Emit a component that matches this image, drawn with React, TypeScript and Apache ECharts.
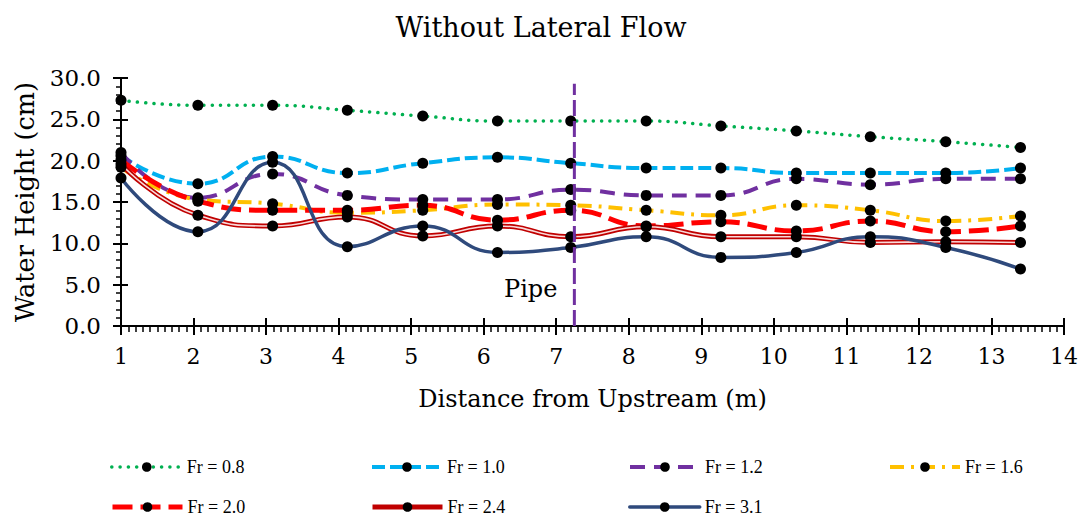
import React, { useEffect, useRef } from "react";
import * as echarts from "echarts";

// Distance from upstream (m) of each measuring station
const X_POS = [1, 2.06, 3.09, 4.12, 5.16, 6.19, 7.2, 8.24, 9.27, 10.31, 11.33, 12.37, 13.4];

// Water height (cm) per Froude number
const FR_08 = [27.3, 26.7, 26.7, 26.1, 25.4, 24.8, 24.8, 24.8, 24.2, 23.6, 22.9, 22.3, 21.6];
const FR_10 = [20.6, 17.2, 20.5, 18.5, 19.7, 20.4, 19.7, 19.1, 19.1, 18.5, 18.5, 18.5, 19.1];
const FR_12 = [21.0, 15.5, 18.4, 15.8, 15.3, 15.3, 16.5, 15.8, 15.8, 17.8, 17.1, 17.8, 17.8];
const FR_16 = [19.2, 15.3, 14.8, 13.7, 14.0, 14.7, 14.6, 14.0, 13.4, 14.6, 14.0, 12.7, 13.3];
const FR_20 = [20.1, 15.1, 14.0, 14.0, 14.6, 12.8, 14.0, 12.1, 12.6, 11.5, 12.7, 11.4, 12.1];
const FR_24 = [19.6, 13.4, 12.1, 13.2, 10.9, 12.1, 10.8, 12.0, 10.8, 10.8, 10.1, 10.2, 10.1];
const FR_31 = [17.9, 11.4, 19.8, 9.6, 12.1, 8.9, 9.5, 10.8, 8.3, 8.9, 10.8, 9.5, 6.9];

const NAMES = ["Fr = 0.8", "Fr = 1.0", "Fr = 1.2", "Fr = 1.6", "Fr = 2.0", "Fr = 2.4", "Fr = 3.1"];

// Pipe location
const PIPE_X = 7.25;
const PIPE_TOP = 29.3;

const X_MIN = 1;
const X_MAX = 14;
const Y_MIN = 0;
const Y_MAX = 30;
const Y_STEP = 5;

const SERIF = "DejaVu Serif";

const zip = (ys: number[]) => X_POS.map((x, i) => [x, ys[i]]);

export default function App() {
  const ref = useRef<HTMLDivElement>(null);

  useEffect(() => {
    const chart = echarts.init(ref.current!, null, { renderer: "svg" });

    const mk = (
      name: string,
      ys: number[],
      color: string,
      width: number,
      type: any,
      cap: string = "butt",
      showSymbol = true
    ) => ({
      name,
      type: "line",
      data: zip(ys),
      smooth: 0.5,
      symbol: "circle",
      symbolSize: 11,
      showSymbol,
      itemStyle: { color: "#000" },
      lineStyle: { color, width, type, cap },
      emphasis: { disabled: true },
      z: 2,
    });

    const STYLES: any[] = [
      { color: "#00B050", width: 3.5, type: [0.1, 8.2], cap: "round" },
      { color: "#00B0F0", width: 4, type: [13, 5], cap: "butt" },
      { color: "#7030A0", width: 4, type: [15, 9], cap: "butt" },
      { color: "#FFC000", width: 4, type: [14, 7, 3, 7], cap: "butt" },
      { color: "#FF0000", width: 5, type: [20, 8], cap: "butt" },
      { color: "#C00000", width: 5, type: "solid", cap: "butt" },
      { color: "#2F4A7C", width: 3.5, type: "solid", cap: "round" },
    ];

    const legendCols = [110, 370, 628, 888];
    const legendRows = [458, 498];
    const legends = NAMES.map((n, i) => ({
      data: [n],
      left: legendCols[i % 4],
      top: legendRows[Math.floor(i / 4)],
      padding: 0,
      itemWidth: 70,
      itemHeight: 12,
      itemGap: 0,
      selectedMode: false,
      lineStyle: { width: STYLES[i].width },
      textStyle: { fontFamily: "Liberation Serif", fontSize: 18, color: "#000" },
    }));

    const option: any = {
      animation: false,
      backgroundColor: "#fff",
      title: {
        text: "Without Lateral Flow",
        left: "center",
        top: 9,
        textStyle: { fontFamily: SERIF, fontSize: 27, fontWeight: "normal", color: "#000" },
      },
      legend: legends,
      grid: { left: 121, right: 18, top: 78, bottom: 194 },
      xAxis: [
        {
          type: "value",
          min: X_MIN,
          max: X_MAX,
          interval: 1,
          name: "Distance from Upstream (m)",
          nameLocation: "middle",
          nameGap: 61,
          nameTextStyle: { fontFamily: SERIF, fontSize: 24, color: "#000" },
          axisLine: { show: true, onZero: false, lineStyle: { color: "#000", width: 2 } },
          axisTick: { show: true, length: 9, lineStyle: { color: "#000", width: 2 } },
          minorTick: { show: true, splitNumber: 10, length: 6, lineStyle: { color: "#000", width: 1.5 } },
          axisLabel: { fontFamily: SERIF, fontSize: 22, color: "#000", margin: 19 },
          splitLine: { show: false },
        },
        {
          type: "value",
          min: X_MIN,
          max: X_MAX,
          interval: 1,
          position: "bottom",
          axisLine: { show: false, onZero: false },
          axisTick: { show: true, inside: true, length: 8, lineStyle: { color: "#000", width: 2 } },
          axisLabel: { show: false },
          splitLine: { show: false },
        },
      ],
      yAxis: [
        {
          type: "value",
          min: Y_MIN,
          max: Y_MAX,
          interval: Y_STEP,
          name: "Water Height (cm)",
          nameLocation: "middle",
          nameGap: 83,
          nameTextStyle: { fontFamily: SERIF, fontSize: 25.5, color: "#000" },
          axisLine: { show: true, lineStyle: { color: "#000", width: 2 } },
          axisTick: { show: true, length: 8, lineStyle: { color: "#000", width: 2 } },
          minorTick: { show: true, splitNumber: 5, length: 5, lineStyle: { color: "#000", width: 1.5 } },
          axisLabel: {
            fontFamily: SERIF,
            fontSize: 23,
            color: "#000",
            margin: 20,
            formatter: (v: number) => v.toFixed(1),
          },
          splitLine: { show: false },
        },
        {
          type: "value",
          min: Y_MIN,
          max: Y_MAX,
          interval: Y_STEP,
          position: "left",
          axisLine: { show: false },
          axisTick: { show: true, inside: true, length: 7, lineStyle: { color: "#000", width: 2 } },
          axisLabel: { show: false },
          splitLine: { show: false },
        },
      ],
      graphic: [
        {
          type: "text",
          left: 504,
          top: 277,
          style: { text: "Pipe", fontFamily: SERIF, fontSize: 24, fill: "#000" },
        },
      ],
      series: [
        mk(NAMES[0], FR_08, STYLES[0].color, STYLES[0].width, STYLES[0].type, STYLES[0].cap),
        mk(NAMES[1], FR_10, STYLES[1].color, STYLES[1].width, STYLES[1].type, STYLES[1].cap),
        mk(NAMES[2], FR_12, STYLES[2].color, STYLES[2].width, STYLES[2].type, STYLES[2].cap),
        mk(NAMES[3], FR_16, STYLES[3].color, STYLES[3].width, STYLES[3].type, STYLES[3].cap),
        mk(NAMES[4], FR_20, STYLES[4].color, STYLES[4].width, STYLES[4].type, STYLES[4].cap),
        mk(NAMES[5], FR_24, STYLES[5].color, STYLES[5].width, STYLES[5].type, STYLES[5].cap, false),
        mk("Fr = 2.4 inner", FR_24, "#F9D9D9", 1.6, "solid"),
        mk(NAMES[6], FR_31, STYLES[6].color, STYLES[6].width, STYLES[6].type, STYLES[6].cap),
        {
          name: "Pipe",
          type: "line",
          data: [
            [PIPE_X, 0],
            [PIPE_X, PIPE_TOP],
          ],
          symbol: "none",
          lineStyle: { color: "#7030A0", width: 3, type: [16, 5] },
          emphasis: { disabled: true },
          z: 3,
        },
      ],
    };

    chart.setOption(option);
    return () => chart.dispose();
  }, []);

  return (
    <div
      ref={ref}
      style={{ position: "fixed", left: 0, top: 0, width: 1082, height: 520, background: "#fff" }}
    />
  );
}
